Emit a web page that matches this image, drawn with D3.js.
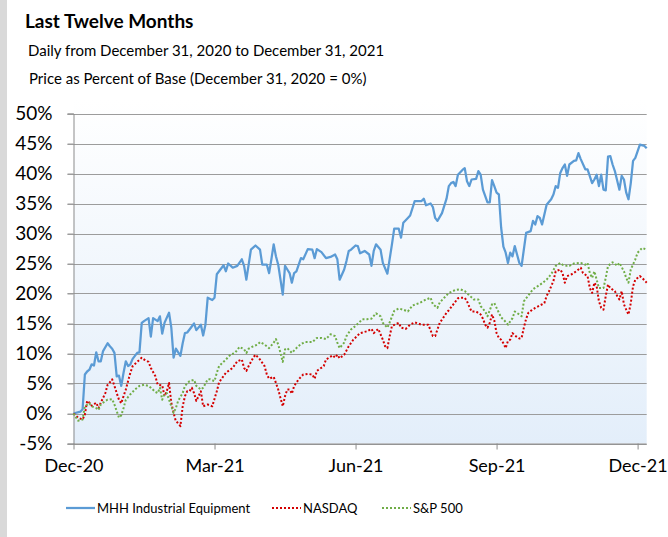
<!DOCTYPE html>
<html>
<head>
<meta charset="utf-8">
<script src="https://cdn.jsdelivr.net/npm/d3@7"></script>
<style>
  body { margin: 0; background: #fff; }
  svg { display: block; font-family: Lato, "Open Sans", sans-serif; }
</style>
</head>
<body>
<svg id="chart" width="668" height="537"></svg>
<script>

// trading-day index (0 = Dec 31, 2020) and price change in percent
var mhh = [[0,0],[3,0.3],[4,0.7],[5,6.5],[6,7.0],[7,7.3],[8,8.2],[9,8.0],[10,10.2],[11,8.7],[12,8.7],[13,10.4],[15,11.7],[16,11.2],[17,10.8],[18,10.1],[19,6.2],[20,6.3],[21,4.6],[22,6.8],[23,8.7],[24,7.9],[25,8.2],[26,9.1],[28,10.1],[29,10.2],[30,15.1],[31,15.4],[33,15.9],[34,12.8],[35,15.9],[37,15.4],[38,16.2],[39,13.3],[40,15.1],[42,16.8],[43,14.3],[44,9.3],[45,10.8],[47,9.6],[48,11.7],[49,13.4],[50,13.5],[53,15.0],[54,13.9],[56,14.8],[57,13.0],[58,14.8],[59,19.3],[61,18.9],[62,19.3],[63,23.2],[64,23.7],[66,24.7],[67,23.7],[68,25.0],[70,24.3],[72,24.6],[74,25.7],[75,24.6],[76,22.3],[77,24.8],[78,27.3],[80,28.0],[82,27.3],[83,24.8],[85,24.8],[86,23.4],[87,25.7],[88,28.2],[89,26.2],[90,24.8],[92,19.8],[93,24.6],[94,24.0],[95,23.4],[96,21.8],[97,23.4],[98,23.7],[100,25.9],[101,25.7],[103,27.4],[105,27.3],[106,25.9],[107,27.4],[109,26.9],[111,25.9],[113,26.1],[115,26.5],[116,25.7],[117,22.3],[119,24.0],[120,25.4],[121,27.1],[122,27.3],[124,28.0],[125,27.9],[126,26.7],[128,27.1],[130,26.5],[131,24.6],[132,27.1],[133,28.2],[135,27.3],[136,25.1],[138,23.3],[140,28.2],[141,30.8],[143,30.8],[144,29.3],[145,31.8],[147,32.6],[148,33.0],[150,35.4],[152,35.4],[153,35.4],[154,35.8],[155,34.7],[157,35.0],[158,34.4],[159,32.6],[160,32.1],[162,33.4],[164,35.8],[165,37.9],[166,38.4],[167,38.6],[168,37.9],[169,39.8],[171,40.6],[172,40.9],[173,38.7],[174,37.9],[175,39.0],[177,39.1],[178,40.4],[179,39.8],[180,37.3],[182,35.2],[183,35.2],[184,38.9],[185,37.9],[186,36.8],[187,36.5],[188,31.0],[189,27.8],[190,26.8],[191,25.1],[192,26.8],[193,26.2],[194,27.9],[195,26.5],[196,25.1],[197,24.6],[199,30.1],[201,30.4],[202,32.1],[203,31.5],[204,32.9],[205,32.6],[206,31.5],[208,34.8],[210,35.7],[211,36.5],[212,37.9],[213,37.6],[214,40.1],[215,40.9],[216,41.5],[217,39.6],[218,41.5],[220,42.1],[221,42.2],[222,43.4],[223,42.4],[225,40.7],[226,40.7],[228,38.4],[229,39.0],[230,39.8],[231,37.9],[232,39.8],[233,37.3],[234,37.2],[235,42.8],[236,42.9],[237,41.5],[238,40.4],[240,37.3],[241,39.6],[242,39.0],[243,36.8],[244,35.7],[245,38.4],[246,42.1],[247,42.6],[249,44.8],[251,44.6],[252,44.2]];

var nasdaq = [[0,0],[2,-0.7],[4,-1.0],[5,-0.2],[6,2.1],[7,1.8],[8,1.3],[10,1.8],[11,0.9],[12,1.8],[14,3.4],[15,4.8],[16,5.2],[17,5.7],[18,4.6],[19,3.4],[20,2.3],[21,1.7],[22,2.9],[23,4.0],[24,5.4],[25,6.8],[26,7.9],[28,8.6],[30,9.3],[31,9.0],[33,8.6],[34,7.6],[36,6.2],[37,4.8],[39,4.7],[40,2.9],[41,3.7],[42,5.1],[43,1.8],[44,0.1],[45,-1.3],[46,-1.6],[47,-2.1],[48,1.2],[49,2.9],[50,3.7],[51,3.7],[52,4.3],[53,3.4],[54,2.1],[55,2.9],[56,3.7],[57,1.2],[59,1.5],[61,1.2],[63,3.7],[64,5.2],[67,6.8],[70,7.6],[72,8.7],[74,9.0],[75,7.6],[76,7.1],[77,7.9],[79,9.3],[80,9.8],[82,9.0],[84,7.9],[85,6.5],[86,5.8],[88,6.1],[89,5.1],[90,4.0],[91,2.6],[92,1.2],[93,2.9],[94,4.0],[95,4.0],[96,3.3],[97,4.6],[99,5.7],[101,6.5],[103,6.6],[105,6.5],[106,5.8],[107,7.1],[110,7.9],[111,9.0],[114,9.7],[115,9.3],[116,9.8],[117,9.2],[119,9.8],[121,11.2],[123,12.3],[126,13.4],[129,13.7],[131,14.1],[132,13.4],[134,14.1],[136,12.3],[137,11.2],[138,10.9],[139,12.9],[140,14.6],[143,15.1],[144,14.3],[146,14.1],[148,14.8],[150,15.2],[153,14.8],[156,14.8],[158,12.9],[159,12.9],[161,15.1],[163,16.2],[164,16.8],[165,17.2],[167,18.2],[169,19.2],[170,19.3],[172,19.3],[173,18.7],[174,17.8],[175,17.0],[177,17.0],[179,16.5],[180,15.8],[181,14.8],[182,14.3],[183,15.1],[184,16.5],[185,15.5],[186,13.4],[187,12.6],[188,12.3],[189,11.7],[190,10.9],[191,12.1],[192,12.3],[193,13.4],[194,13.0],[196,12.5],[197,12.6],[198,14.3],[199,15.8],[200,16.8],[201,17.1],[203,17.6],[205,18.0],[207,18.4],[208,19.6],[209,20.3],[211,22.1],[212,23.7],[214,24.0],[215,23.4],[216,21.8],[217,22.9],[219,23.2],[221,23.7],[223,24.3],[224,23.4],[226,22.9],[227,20.9],[228,20.1],[229,21.8],[230,21.2],[231,18.7],[232,17.6],[233,17.3],[234,19.6],[235,21.5],[236,20.9],[238,20.4],[239,19.6],[240,19.0],[241,20.4],[242,18.2],[243,17.3],[244,16.5],[245,18.4],[246,21.2],[247,22.3],[249,22.9],[250,22.6],[252,21.8]];

var sp500 = [[0,0],[2,-1.2],[4,-1.0],[5,1.2],[7,1.7],[8,1.2],[10,0.9],[11,0.6],[12,1.5],[14,2.1],[15,2.3],[17,2.4],[18,1.5],[19,0.4],[20,-0.7],[21,-0.3],[22,0.9],[23,2.3],[25,3.2],[27,4.0],[29,4.6],[31,4.8],[33,4.6],[34,4.3],[36,3.6],[37,3.4],[38,4.3],[39,2.3],[40,3.2],[41,3.4],[42,2.3],[43,1.2],[44,0.1],[45,0.9],[46,2.1],[48,3.4],[49,4.6],[51,5.4],[53,5.6],[54,4.6],[56,4.0],[57,4.3],[59,5.7],[60,5.7],[62,5.4],[63,6.8],[64,7.9],[67,9.0],[69,9.8],[71,10.1],[73,11.1],[75,10.7],[76,10.1],[77,10.8],[79,11.2],[81,11.5],[82,11.9],[84,11.5],[86,10.9],[88,11.8],[89,12.4],[90,11.5],[91,10.1],[92,8.6],[93,10.7],[94,10.9],[96,10.1],[98,10.9],[100,11.6],[102,11.9],[105,11.9],[107,12.6],[109,12.6],[111,12.4],[113,13.2],[115,12.9],[116,11.8],[117,10.9],[119,11.8],[120,12.9],[122,14.0],[124,14.6],[127,15.7],[129,15.7],[131,15.8],[133,16.7],[135,16.2],[136,15.1],[138,14.3],[139,15.2],[141,17.1],[143,17.5],[145,17.3],[147,17.0],[149,18.0],[152,18.4],[155,19.0],[157,19.3],[158,18.2],[160,17.6],[161,18.5],[163,19.3],[165,20.1],[168,20.6],[170,20.7],[172,20.4],[174,19.7],[176,19.0],[178,19.0],[179,17.9],[181,17.0],[182,16.2],[184,18.2],[185,18.4],[186,17.6],[188,16.0],[189,15.7],[191,14.8],[193,15.9],[194,17.0],[196,16.5],[197,16.2],[198,18.7],[200,19.7],[202,20.7],[204,21.2],[206,21.7],[208,22.3],[210,23.2],[212,24.6],[214,25.1],[215,24.8],[217,24.6],[218,24.6],[220,25.0],[223,25.1],[225,24.8],[226,25.1],[227,23.4],[228,22.6],[229,23.7],[230,22.3],[231,20.9],[233,20.9],[234,22.6],[235,24.6],[237,25.2],[238,25.0],[239,24.6],[240,25.1],[242,23.7],[243,22.6],[244,21.8],[245,24.0],[247,25.7],[248,26.8],[250,27.6],[252,27.3]];

var yTicks = [-5, 0, 5, 10, 15, 20, 25, 30, 35, 40, 45, 50];
var xTickDays = [0, 62, 124, 186, 248];
var xTickLabels = ["Dec-20", "Mar-21", "Jun-21", "Sep-21", "Dec-21"];

var series = [
  {name: "MHH Industrial Equipment", data: mhh, color: "#5b9bd5", dash: null, width: 2.25},
  {name: "NASDAQ", data: nasdaq, color: "#d40000", dash: "2,2", width: 2},
  {name: "S&P 500", data: sp500, color: "#70ad47", dash: "2,2", width: 2}
];

var svg = d3.select("#chart");
var W = 668, H = 537;
var plot = {left: 73.5, right: 646.7, top: 100, yTop: 113.5, bottom: 443.5};

// grey strip on the left edge
svg.append("rect").attr("x", 0).attr("y", 0).attr("width", 7).attr("height", H).attr("fill", "#d9d9d9");

// titles
svg.append("text").attr("x", 25).attr("y", 28)
    .style("font-size", "19px").style("font-weight", "bold").attr("fill", "#000")
    .text("Last Twelve Months");
svg.append("text").attr("x", 28).attr("y", 56)
    .style("font-size", "15px").attr("fill", "#000")
    .text("Daily from December 31, 2020 to December 31, 2021");
svg.append("text").attr("x", 29).attr("y", 84)
    .style("font-size", "15px").attr("fill", "#000")
    .text("Price as Percent of Base (December 31, 2020 = 0%)");

var x = d3.scaleLinear().domain([0, 252]).range([plot.left, plot.right]);
var y = d3.scaleLinear().domain([-5, 50]).range([plot.bottom, plot.yTop]);

// plot background gradient
var defs = svg.append("defs");
var grad = defs.append("linearGradient").attr("id", "bg").attr("x1", 0).attr("y1", 0).attr("x2", 0).attr("y2", 1);
grad.append("stop").attr("offset", "0%").attr("stop-color", "#ffffff");
grad.append("stop").attr("offset", "100%").attr("stop-color", "#e3eefa");
svg.append("rect")
    .attr("x", plot.left).attr("y", plot.top)
    .attr("width", plot.right - plot.left).attr("height", plot.bottom - plot.top)
    .attr("fill", "url(#bg)");

// horizontal gridlines (they run into the outside tick marks)
svg.append("g").selectAll("line").data(yTicks).enter().append("line")
    .attr("x1", plot.left - 6).attr("x2", plot.right)
    .attr("y1", function(d) { return Math.round(y(d)) + 0.5; })
    .attr("y2", function(d) { return Math.round(y(d)) + 0.5; })
    .attr("stroke", "#9c9c9c").attr("stroke-width", 1);

// y axis
var yAxis = svg.append("g").attr("transform", "translate(" + plot.left + ",0)")
    .call(d3.axisLeft(y).tickValues(yTicks).tickSize(6).tickPadding(15)
      .tickFormat(function(d) { return d + "%"; }));
yAxis.select(".domain").attr("stroke", "#8c8c8c");
yAxis.selectAll(".tick line").attr("stroke", "#9c9c9c");
yAxis.selectAll("text").style("font-size", "19px").style("font-family", "Lato, sans-serif").attr("fill", "#000");

// x axis
var xAxis = svg.append("g").attr("transform", "translate(0," + plot.bottom + ")")
    .call(d3.axisBottom(x).tickValues(xTickDays).tickSize(6).tickPadding(10)
      .tickFormat(function(d, i) { return xTickLabels[i]; }));
xAxis.select(".domain").attr("stroke", "#8c8c8c").attr("d", "M" + plot.left + ",0.5H" + plot.right);
xAxis.selectAll(".tick line").attr("stroke", "#8c8c8c");
xAxis.selectAll("text").style("font-size", "18px").style("font-family", "Lato, sans-serif").attr("fill", "#000");

// series lines
var line = d3.line()
    .x(function(d) { return x(d[0]); })
    .y(function(d) { return y(d[1]); });

svg.append("g").selectAll("path").data(series).enter().append("path")
    .attr("d", function(s) { return line(s.data); })
    .attr("fill", "none")
    .attr("stroke", function(s) { return s.color; })
    .attr("stroke-width", function(s) { return s.width; })
    .attr("stroke-dasharray", function(s) { return s.dash; })
    .attr("stroke-linejoin", "round");

// legend
var legendX = [66, 272, 382];
var lg = svg.append("g").selectAll("g").data(series).enter().append("g")
    .attr("transform", function(s, i) { return "translate(" + legendX[i] + ",508)"; });
lg.append("line").attr("x1", 0).attr("x2", 29).attr("y1", 0).attr("y2", 0)
    .attr("stroke", function(s) { return s.color; })
    .attr("stroke-width", function(s) { return s.width; })
    .attr("stroke-dasharray", function(s) { return s.dash; });
lg.append("text").attr("x", 31).attr("y", 5)
    .style("font-size", "13px").attr("fill", "#000")
    .text(function(s) { return s.name; });

</script>
</body>
</html>
